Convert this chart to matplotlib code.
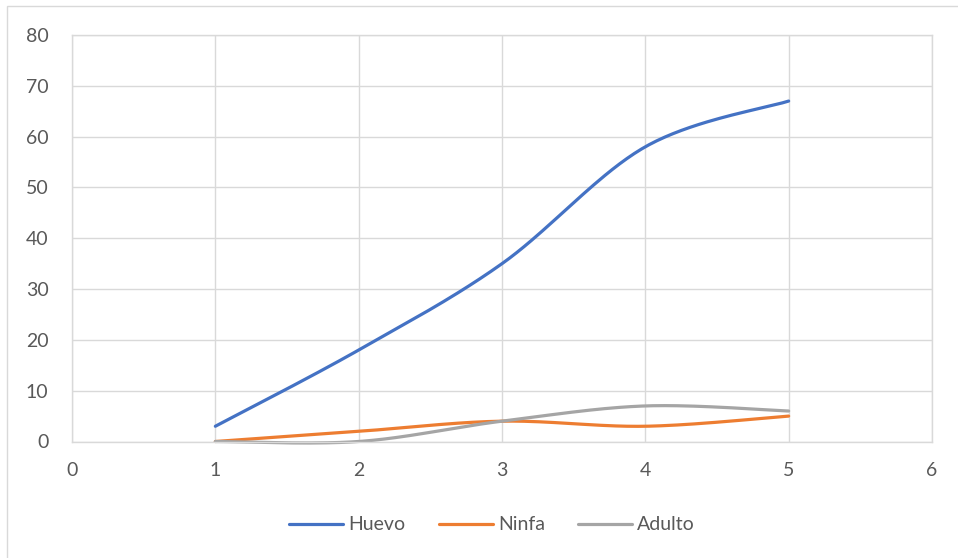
import numpy as np
import matplotlib
matplotlib.use("Agg")
import matplotlib.pyplot as plt
from matplotlib.patches import Rectangle
from matplotlib.lines import Line2D

# Series data
x_vals = [1, 2, 3, 4, 5]
huevo = [3, 18, 35, 58, 67]
ninfa = [0, 2, 4, 3, 5]
adulto = [0, 0, 4, 7, 6]
series_names = ["Huevo", "Ninfa", "Adulto"]
colors = ["#4472C4", "#ED7D31", "#A5A5A5"]
x_ticks = [0, 1, 2, 3, 4, 5, 6]
y_ticks = [0, 10, 20, 30, 40, 50, 60, 70, 80]

plt.rcParams["font.family"] = ["Lato", "DejaVu Sans"]


def smooth_curve(xs, ys, n=40):
    """Cubic Bezier smoothing through every point (spreadsheet-style)."""
    p = np.column_stack([xs, ys]).astype(float)
    pts = np.vstack([p[0], p, p[-1]])
    out = []
    for i in range(1, len(pts) - 2):
        p0, p1, p2, p3 = pts[i - 1], pts[i], pts[i + 1], pts[i + 2]
        c1 = p1 + (p2 - p0) / 6.0
        c2 = p2 - (p3 - p1) / 6.0
        t = np.linspace(0, 1, n)[:, None]
        seg = ((1 - t) ** 3) * p1 + 3 * ((1 - t) ** 2) * t * c1 + 3 * (1 - t) * t ** 2 * c2 + t ** 3 * p2
        out.append(seg if i == 1 else seg[1:])
    c = np.vstack(out)
    return c[:, 0], c[:, 1]


fig = plt.figure(figsize=(9.58, 5.58), dpi=100)
W, H = 958, 558

# outer chart border
fig.patches.append(Rectangle((7 / W, -0.01), 1.0, 1 - 6 / H + 0.01, transform=fig.transFigure,
                             fill=False, edgecolor="#D9D9D9", linewidth=1.0))

ax = fig.add_axes([72 / W, 1 - 441.5 / H, (932 - 72) / W, (441.5 - 35) / H])
ax.set_xlim(0, 6)
ax.set_ylim(0, 80)
ax.set_xticks(x_ticks)
ax.set_yticks(y_ticks)
ax.grid(True, color="#D9D9D9", linewidth=1.0)
ax.set_axisbelow(True)
for s in ax.spines.values():
    s.set_color("#D9D9D9")
    s.set_linewidth(1.0)
ax.tick_params(length=0, labelsize=14, colors="#595959")
ax.tick_params(axis="x", pad=15)
ax.tick_params(axis="y", pad=17)

handles = []
for name, ys, col in zip(series_names, [huevo, ninfa, adulto], colors):
    sx, sy = smooth_curve(x_vals, ys)
    ax.plot(sx, sy, color=col, linewidth=2.3, solid_capstyle="round", clip_on=False)
    handles.append(Line2D([], [], color=col, linewidth=2.3, solid_capstyle="round"))

fig.legend(handles, series_names, loc="center", bbox_to_anchor=(492 / W, 1 - 525 / H),
           ncol=3, frameon=False, fontsize=14, handlelength=2.8, handletextpad=0.25,
           columnspacing=1.7, labelcolor="#595959")

fig.savefig("out.png", dpi=100)
